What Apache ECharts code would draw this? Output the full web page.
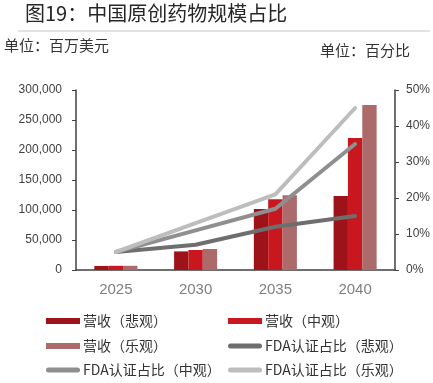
<!DOCTYPE html>
<html><head><meta charset="utf-8">
<script src="https://cdn.jsdelivr.net/npm/echarts@6/dist/echarts.min.js"></script>
<style>html,body{margin:0;padding:0;background:#fff}#c{width:433px;height:383px}</style>
</head><body><div id="c"></div>
<script>
const categories = ['2025','2030','2035','2040'];
const revPess = [6800, 31000, 101700, 123300];
const revMid  = [7000, 33300, 117800, 220000];
const revOpt  = [7000, 35000, 124500, 275000];
const fdaPess = [0.05, 0.07, 0.12, 0.15];
const fdaMid  = [0.05, 0.11, 0.17, 0.35];
const fdaOpt  = [0.05, 0.13, 0.21, 0.45];
const leftTicks = {min:0, max:300000, interval:50000};
const rightTicks = {min:0, max:0.5, interval:0.1};
const names = ['营收（悲观）','营收（中观）','营收（乐观）','FDA认证占比（悲观）','FDA认证占比（中观）','FDA认证占比（乐观）'];
const colors = ['#9e1219','#c8171f','#ad6a6a','#6e6e6e','#8f8f8f','#bdbdbd'];

const cjk = '"Noto Sans CJK SC", "Liberation Sans", sans-serif';
const num = '"Liberation Sans", Arial, sans-serif';
const chart = echarts.init(document.getElementById('c'));

const capsule = 'path://M2.5,0 L31.5,0 A2.5,2.5 0 0 1 31.5,5 L2.5,5 A2.5,2.5 0 0 1 2.5,0 Z';
const legendPos = [[46,323],[228,323],[46,348],[228,348],[46,372],[228,372]];
const legends = names.map((n,i)=>({
  data:[n], left: legendPos[i][0], top: legendPos[i][1]-9, padding:0,
  itemWidth:34, itemHeight: i<3 ? 6 : 5, itemGap:0,
  icon: i<3 ? 'rect' : capsule,
  textStyle:{fontFamily:cjk, fontSize:14, color:'#333', padding:[0,0,0,-2]}
}));

function bar(name, data, color){
  return {name, type:'bar', data, itemStyle:{color}, barGap:'0%', barCategoryGap:'46%', yAxisIndex:0};
}
function line(name, data, color){
  return {name, type:'line', data, yAxisIndex:1, symbol:'none', showSymbol:false,
    lineStyle:{color, width:4, cap:'round', join:'round'}, itemStyle:{color}};
}

chart.setOption({
  animation:false,
  graphic:[
    {type:'text', left:25, top:3, style:{text:'图19：中国原创药物规模占比', font:'20px '+cjk, fill:'#262626'}},
    {type:'line', shape:{x1:18,y1:31,x2:430,y2:31}, style:{stroke:'#d9d9d9', lineWidth:1.5}},
    {type:'text', left:4, top:38, style:{text:'单位：百万美元', font:'15px '+cjk, fill:'#333'}},
    {type:'text', left:320, top:43, style:{text:'单位：百分比', font:'15px '+cjk, fill:'#333'}}
  ],
  legend: legends,
  grid:{left:76, right:33, top:90, bottom:113},
  xAxis:{type:'category', data:categories,
    axisLine:{lineStyle:{color:'#404040', width:1.5}}, axisTick:{show:false},
    axisLabel:{fontFamily:num, fontSize:15, color:'#7f7f7f', margin:12}},
  yAxis:[
    {type:'value', min:leftTicks.min, max:leftTicks.max, interval:leftTicks.interval,
     splitLine:{show:false},
     axisLine:{show:true, lineStyle:{color:'#404040', width:1.5}},
     axisTick:{show:true, length:4, lineStyle:{color:'#404040'}},
     axisLabel:{fontFamily:num, fontSize:12, color:'#404040', margin:14,
       formatter:v=>v.toLocaleString('en-US')}},
    {type:'value', min:rightTicks.min, max:rightTicks.max, interval:rightTicks.interval,
     splitLine:{show:false},
     axisLine:{show:true, lineStyle:{color:'#404040', width:1.5}},
     axisTick:{show:true, length:4, lineStyle:{color:'#404040'}},
     axisLabel:{fontFamily:num, fontSize:12, color:'#404040', margin:11,
       formatter:v=>Math.round(v*100)+'%'}}
  ],
  series:[
    bar(names[0], revPess, colors[0]),
    bar(names[1], revMid, colors[1]),
    bar(names[2], revOpt, colors[2]),
    line(names[3], fdaPess, colors[3]),
    line(names[4], fdaMid, colors[4]),
    line(names[5], fdaOpt, colors[5])
  ]
});
</script></body></html>
